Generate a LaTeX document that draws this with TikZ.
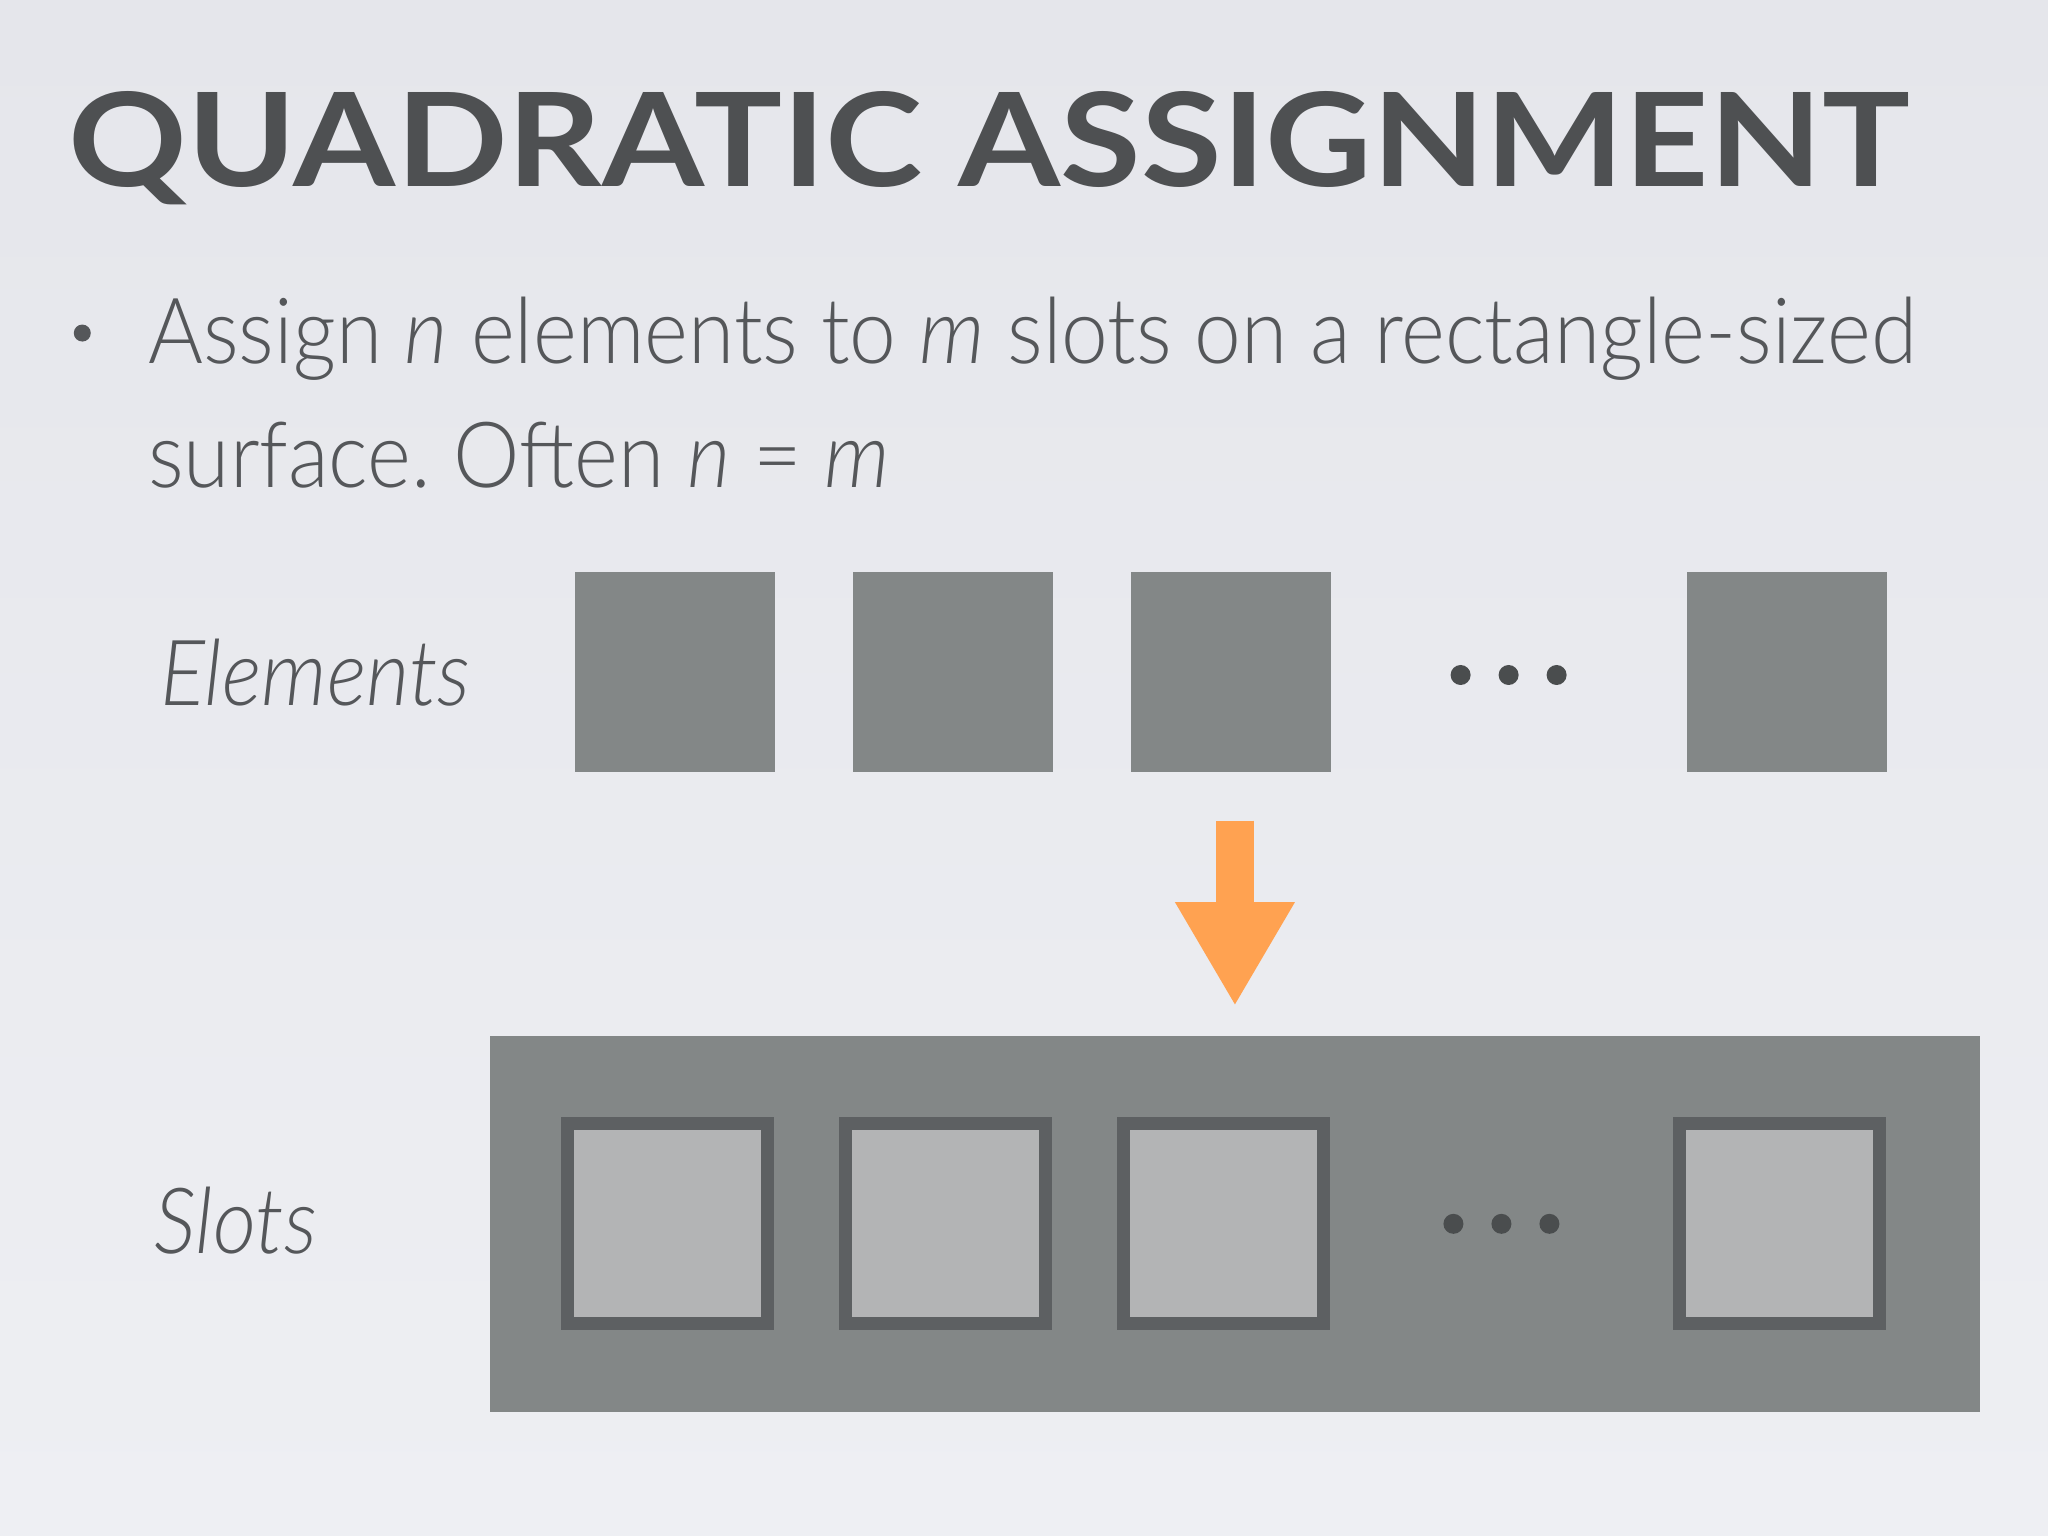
\documentclass[tikz,border=0pt]{standalone}
\usepackage{fontspec}
\setmainfont{Lato}[UprightFont=* Light, ItalicFont=* Light Italic, BoldFont=* Bold, FakeStretch=0.918]
\newfontfamily\titlefont{Lato}[UprightFont=* Bold, FakeStretch=1.13]
\usetikzlibrary{positioning,arrows.meta}
\definecolor{slidebg}{HTML}{EEEFF3}
\definecolor{slidetop}{HTML}{E5E6EB}
\definecolor{titlegray}{HTML}{4E5052}
\definecolor{textgray}{HTML}{55575A}
\definecolor{blockgray}{HTML}{838787}
\definecolor{slotrim}{HTML}{5D6062}
\definecolor{slotfill}{HTML}{B3B4B5}
\definecolor{dotgray}{HTML}{4A4D4E}
\definecolor{arroworange}{HTML}{FFA251}

\begin{document}
\frenchspacing
\begin{tikzpicture}[x=0.01306cm, y=-0.01306cm,
    elem block/.style={fill=blockgray, minimum size=2cm, inner sep=0pt},
    slot block/.style={draw=slotrim, line width=0.13cm, fill=slotfill, minimum size=2cm, inner sep=0pt},
    surface block/.style={fill=blockgray, minimum width=14.9cm, minimum height=3.76cm, inner sep=0pt},
    slide text/.style={text=textgray, inner sep=0pt, anchor=base west, font=\fontsize{26}{31}\selectfont},
    assign arrow/.style={draw=arroworange, line width=0.38cm, -{Triangle[width=1.12cm, length=1.04cm]}, arroworange},
    node distance=2.78cm]
    % background
    \shade[top color=slidetop, bottom color=slidebg] (0,0) rectangle (1568,1176);
    \useasboundingbox (0,0) rectangle (1568,1176);

    % title and bullet
    \node[text=titlegray, inner sep=0pt, anchor=base west, font=\fontsize{37}{44}\titlefont] (title) at (52,143) {QUADRATIC ASSIGNMENT};
    \fill[textgray] (63,255) circle (0.085cm);
    \node[slide text] (line1) at (113,278) {Assign \textit{n} elements to \textit{m} slots on a rectangle-sized};
    \node[slide text] (line2) at (113,373) {surface. Often \textit{n} = \textit{m}};

    % elements row
    \node[slide text, font=\fontsize{26}{31}\selectfont\itshape] (elemlabel) at (122,540) {Elements};
    \node[elem block] (e1) at (516.5,514.5) {};
    \node[elem block, right of=e1] (e2) {};
    \node[elem block, right of=e2] (e3) {};
    \node[right of=e3] (edots) {};
    \node[elem block, right of=edots] (e4) {};

    % slots on the surface
    \node[surface block] (surface) at (945.5,937) {};
    \node[slide text, font=\fontsize{26}{31}\selectfont\itshape] (slotlabel) at (118,960) {Slots};
    \node[slot block] (s1) at (511,937) {};
    \node[slot block, right of=s1] (s2) {};
    \node[slot block, right of=s2] (s3) {};
    \node[right of=s3] (sdots) {};
    \node[slot block, right of=sdots] (s4) {};

    \foreach \d in {-1,0,1} {
        \fill[dotgray] ([xshift=\d*0.48cm, yshift=-0.03cm]edots.center) circle (0.1cm);
        \fill[dotgray] ([xshift=\d*0.48cm]sdots.center) circle (0.1cm);
    }

    \draw[assign arrow] ([yshift=-0.48cm]surface.north |- e3.south) -- ([yshift=0.29cm]surface.north);
\end{tikzpicture}
\end{document}
